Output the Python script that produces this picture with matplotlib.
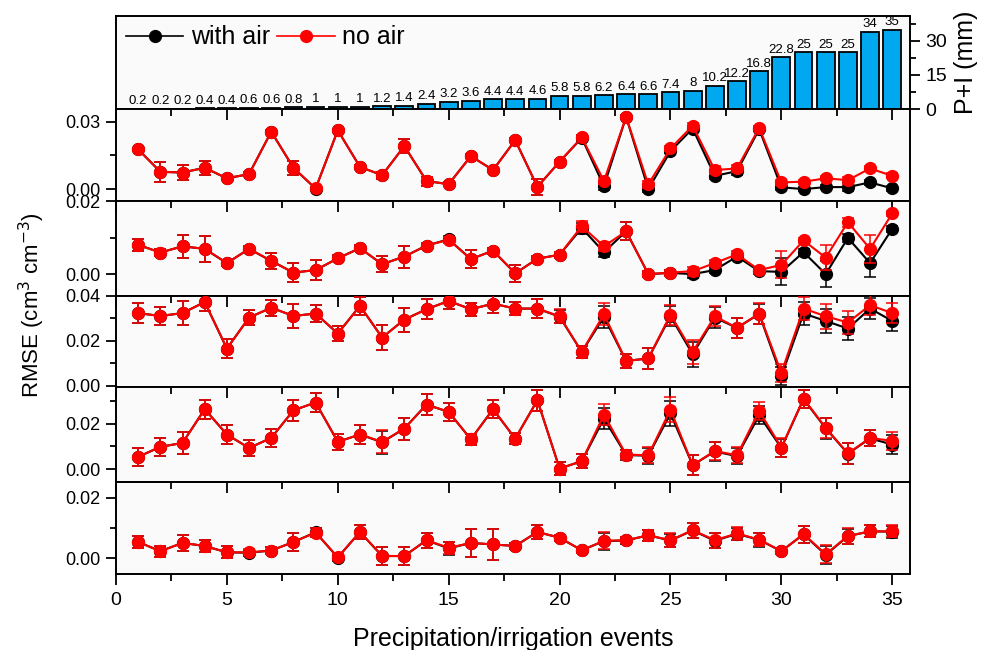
import numpy as np
import matplotlib
matplotlib.use('Agg')
import matplotlib.pyplot as plt
from matplotlib.ticker import MultipleLocator, FormatStrFormatter

# events and precipitation + irrigation amount (mm)
events = np.arange(1, 36)
p_i = [0.2, 0.2, 0.2, 0.4, 0.4, 0.6, 0.6, 0.8, 1, 1, 1, 1.2, 1.4, 2.4, 3.2, 3.6,
       4.4, 4.4, 4.6, 5.8, 5.8, 6.2, 6.4, 6.6, 7.4, 8, 10.2, 12.2, 16.8, 22.8,
       25, 25, 25, 34, 35]
p_i_labels = ['0.2', '0.2', '0.2', '0.4', '0.4', '0.6', '0.6', '0.8', '1', '1', '1',
              '1.2', '1.4', '2.4', '3.2', '3.6', '4.4', '4.4', '4.6', '5.8', '5.8',
              '6.2', '6.4', '6.6', '7.4', '8', '10.2', '12.2', '16.8', '22.8', '25',
              '25', '25', '34', '35']

# panel 1
p1_noair = [0.0177, 0.0077, 0.0074, 0.0095, 0.0048, 0.0067, 0.0256, 0.0095, 0.0003, 0.0262,
            0.0099, 0.0062, 0.0192, 0.0036, 0.0022, 0.0147, 0.0085, 0.0218, 0.0010, 0.0122,
            0.0230, 0.0036, 0.0322, 0.0021, 0.0181, 0.0282, 0.0085, 0.0092, 0.0273, 0.0030,
            0.0033, 0.0048, 0.0040, 0.0092, 0.0059]
p1_air = [0.0177, 0.0077, 0.0074, 0.0095, 0.0048, 0.0067, 0.0256, 0.0095, 0.0002, 0.0262,
          0.0099, 0.0062, 0.0192, 0.0036, 0.0022, 0.0147, 0.0085, 0.0218, 0.0010, 0.0122,
          0.0228, 0.0013, 0.0322, 0.0000, 0.0169, 0.0270, 0.0059, 0.0080, 0.0267, 0.0008,
          0.0000, 0.0009, 0.0009, 0.0030, 0.0003]
p1_err = [0.0008, 0.0046, 0.0035, 0.0032, 0.0008, 0.0008, 0.0008, 0.0030, 0.0008, 0.0008,
          0.0008, 0.0015, 0.0030, 0.0020, 0.0008, 0.0008, 0.0008, 0.0008, 0.0036, 0.0008,
          0.0012, 0.0015, 0.0008, 0.0015, 0.0010, 0.0012, 0.0016, 0.0015, 0.0008, 0.0010,
          0.0009, 0.0009, 0.0016, 0.0012, 0.0011]

# panel 2
p2_noair = [0.0080, 0.0059, 0.0076, 0.0069, 0.0030, 0.0069, 0.0036, 0.0004, 0.0011, 0.0043,
            0.0071, 0.0027, 0.0048, 0.0078, 0.0094, 0.0041, 0.0064, 0.0002, 0.0042, 0.0053,
            0.0131, 0.0076, 0.0117, 0.0000, 0.0004, 0.0008, 0.0030, 0.0054, 0.0011, 0.0025,
            0.0092, 0.0045, 0.0142, 0.0069, 0.0166]
p2_air = [0.0080, 0.0059, 0.0076, 0.0069, 0.0030, 0.0069, 0.0036, 0.0004, 0.0011, 0.0043,
          0.0071, 0.0027, 0.0048, 0.0078, 0.0095, 0.0041, 0.0064, 0.0002, 0.0042, 0.0053,
          0.0126, 0.0060, 0.0117, 0.0000, 0.0003, 0.0000, 0.0011, 0.0048, 0.0008, 0.0006,
          0.0060, 0.0000, 0.0099, 0.0030, 0.0124]
p2_err = [0.0016, 0.0009, 0.0031, 0.0035, 0.0008, 0.0008, 0.0023, 0.0027, 0.0027, 0.0008,
          0.0008, 0.0022, 0.0030, 0.0008, 0.0008, 0.0025, 0.0008, 0.0024, 0.0008, 0.0008,
          0.0015, 0.0012, 0.0025, 0.0008, 0.0008, 0.0012, 0.0008, 0.0008, 0.0008, 0.0037,
          0.0008, 0.0035, 0.0012, 0.0038, 0.0008]

# panel 3
p3_noair = [0.0324, 0.0311, 0.0324, 0.0373, 0.0166, 0.0304, 0.0348, 0.0311, 0.0322, 0.0233,
            0.0356, 0.0215, 0.0295, 0.0341, 0.0378, 0.0341, 0.0366, 0.0344, 0.0344, 0.0310,
            0.0151, 0.0319, 0.0111, 0.0122, 0.0317, 0.0151, 0.0310, 0.0258, 0.0322, 0.0058,
            0.0344, 0.0310, 0.0282, 0.0359, 0.0324]
p3_air = [0.0324, 0.0311, 0.0324, 0.0373, 0.0166, 0.0304, 0.0348, 0.0311, 0.0322, 0.0233,
          0.0356, 0.0215, 0.0295, 0.0341, 0.0378, 0.0341, 0.0366, 0.0344, 0.0344, 0.0308,
          0.0151, 0.0307, 0.0111, 0.0122, 0.0310, 0.0141, 0.0304, 0.0258, 0.0320, 0.0043,
          0.0322, 0.0289, 0.0255, 0.0344, 0.0289]
p3_err = [0.0043, 0.0038, 0.0052, 0.0040, 0.0041, 0.0035, 0.0035, 0.0055, 0.0038, 0.0033,
          0.0040, 0.0056, 0.0053, 0.0045, 0.0035, 0.0030, 0.0040, 0.0030, 0.0042, 0.0030,
          0.0025, 0.0050, 0.0033, 0.0047, 0.0045, 0.0055, 0.0045, 0.0045, 0.0045, 0.0040,
          0.0050, 0.0055, 0.0050, 0.0045, 0.0045]

# panel 4
p4_noair = [0.0054, 0.0098, 0.0115, 0.0263, 0.0152, 0.0093, 0.0137, 0.0258, 0.0292, 0.0120,
            0.0152, 0.0120, 0.0178, 0.0283, 0.0251, 0.0131, 0.0263, 0.0134, 0.0302, 0.0003,
            0.0035, 0.0239, 0.0064, 0.0061, 0.0261, 0.0018, 0.0080, 0.0061, 0.0255, 0.0095,
            0.0309, 0.0181, 0.0069, 0.0137, 0.0124]
p4_air = [0.0054, 0.0098, 0.0115, 0.0263, 0.0152, 0.0093, 0.0137, 0.0258, 0.0292, 0.0120,
          0.0152, 0.0118, 0.0178, 0.0283, 0.0251, 0.0131, 0.0263, 0.0134, 0.0302, 0.0003,
          0.0035, 0.0222, 0.0062, 0.0059, 0.0244, 0.0018, 0.0078, 0.0057, 0.0236, 0.0093,
          0.0307, 0.0179, 0.0068, 0.0135, 0.0108]
p4_err = [0.0039, 0.0038, 0.0047, 0.0042, 0.0040, 0.0035, 0.0038, 0.0047, 0.0040, 0.0035,
          0.0042, 0.0051, 0.0048, 0.0045, 0.0040, 0.0025, 0.0040, 0.0025, 0.0045, 0.0030,
          0.0030, 0.0045, 0.0020, 0.0035, 0.0055, 0.0045, 0.0040, 0.0035, 0.0040, 0.0040,
          0.0040, 0.0045, 0.0045, 0.0035, 0.0040]

# panel 5
p5_noair = [0.0054, 0.0024, 0.0051, 0.0041, 0.0020, 0.0020, 0.0026, 0.0054, 0.0085, 0.0004,
            0.0087, 0.0008, 0.0008, 0.0060, 0.0035, 0.0051, 0.0046, 0.0041, 0.0087, 0.0068,
            0.0027, 0.0058, 0.0060, 0.0076, 0.0060, 0.0093, 0.0060, 0.0082, 0.0062, 0.0024,
            0.0080, 0.0014, 0.0074, 0.0089, 0.0089]
p5_air = [0.0054, 0.0024, 0.0051, 0.0041, 0.0020, 0.0019, 0.0026, 0.0054, 0.0086, 0.0003,
          0.0087, 0.0008, 0.0008, 0.0060, 0.0033, 0.0051, 0.0046, 0.0041, 0.0087, 0.0068,
          0.0027, 0.0057, 0.0059, 0.0076, 0.0059, 0.0092, 0.0058, 0.0081, 0.0061, 0.0024,
          0.0079, 0.0012, 0.0073, 0.0089, 0.0088]
p5_err = [0.0020, 0.0018, 0.0027, 0.0020, 0.0020, 0.0010, 0.0012, 0.0030, 0.0015, 0.0010,
          0.0022, 0.0030, 0.0030, 0.0025, 0.0020, 0.0045, 0.0052, 0.0010, 0.0022, 0.0010,
          0.0010, 0.0028, 0.0010, 0.0018, 0.0022, 0.0025, 0.0025, 0.0020, 0.0022, 0.0010,
          0.0028, 0.0030, 0.0025, 0.0020, 0.0020]

panels = [(p1_air, p1_noair, p1_err, (-0.0053, 0.0357), 0.03),
          (p2_air, p2_noair, p2_err, (-0.006, 0.02), 0.02),
          (p3_air, p3_noair, p3_err, (-0.0005, 0.04), 0.02),
          (p4_air, p4_noair, p4_err, (-0.0056, 0.036), 0.02),
          (p5_air, p5_noair, p5_err, (-0.0051, 0.0251), 0.02)]

plt.rcParams['font.family'] = ['Liberation Sans', 'DejaVu Sans']

W, H = 989, 650
x0, x1 = 116, 910
edges = [16, 109, 201, 296, 387, 482, 574]
xlim = (0, 35.8)
face = '#fafafa'
msize = 8.5

fig = plt.figure(figsize=(W / 100, H / 100), dpi=100)


def add_axes(top, bottom):
    return fig.add_axes([x0 / W, 1 - bottom / H, (x1 - x0) / W, (bottom - top) / H])


# top bar panel
axb = add_axes(edges[0], edges[1])
axb.set_facecolor(face)
bars = axb.bar(events, p_i, width=0.8, color='#00a8f0', edgecolor='black', linewidth=1.3)
axb.bar_label(bars, labels=p_i_labels, padding=1, fontsize=9.5)
axb.set_xlim(xlim)
axb.set_ylim(0, 41)
axb.yaxis.tick_right()
axb.yaxis.set_label_position('right')
axb.yaxis.set_major_locator(MultipleLocator(15))
axb.yaxis.set_minor_locator(MultipleLocator(7.5))
axb.tick_params(axis='y', which='major', length=7, width=1.3, labelsize=14, pad=4)
axb.tick_params(axis='y', which='minor', length=4, width=1.3)
axb.tick_params(axis='x', bottom=False, labelbottom=False)
axb.set_ylabel('P+I (mm)', fontsize=18, labelpad=5)
for s in axb.spines.values():
    s.set_linewidth(1.4)

h1, = axb.plot([], [], 'o-', color='black', markersize=msize, lw=1.2)
h2, = axb.plot([], [], 'o-', color='red', markersize=msize, lw=1.2)
axb.legend([h1, h2], ['with air', 'no air'], loc='center left', bbox_to_anchor=(0.006, 0.77),
           ncol=2, frameon=False, fontsize=18, handlelength=2.3, handletextpad=0.3,
           columnspacing=0.3, borderpad=0.2, borderaxespad=0)

# RMSE panels
for i, (air, noair, err, ylim, major) in enumerate(panels):
    ax = add_axes(edges[i + 1], edges[i + 2])
    ax.set_facecolor(face)
    ax.errorbar(events, air, yerr=err, fmt='o-', color='black', markersize=msize, lw=1.5,
                elinewidth=1.1, capsize=4, capthick=1.1, zorder=2)
    ax.errorbar(events, noair, yerr=err, fmt='o-', color='red', markersize=msize, lw=1.5,
                elinewidth=1.1, capsize=4, capthick=1.1, zorder=3)
    ax.set_xlim(xlim)
    ax.set_ylim(ylim)
    ax.yaxis.set_major_locator(MultipleLocator(major))
    ax.yaxis.set_minor_locator(MultipleLocator(major / 2))
    ax.yaxis.set_major_formatter(FormatStrFormatter('%.2f'))
    ax.xaxis.set_major_locator(MultipleLocator(5))
    ax.xaxis.set_minor_locator(MultipleLocator(2.5))
    ax.tick_params(axis='y', which='major', length=7, width=1.3, labelsize=13, pad=4)
    ax.tick_params(axis='y', which='minor', length=4, width=1.3)
    for s in ax.spines.values():
        s.set_linewidth(1.4)
    last = (i == len(panels) - 1)
    if not last:
        ax.tick_params(axis='x', which='both', top=True, bottom=False, labelbottom=False,
                       direction='in', width=1.3)
        ax.tick_params(axis='x', which='major', length=8)
        ax.tick_params(axis='x', which='minor', length=5)
    else:
        # bottom ticks outward with labels, top ticks inward
        ax.tick_params(axis='x', which='both', direction='out', width=1.3,
                       labelsize=14, pad=5)
        ax.tick_params(axis='x', which='major', length=8)
        ax.tick_params(axis='x', which='minor', length=5)
        top = ax.secondary_xaxis('top')
        top.xaxis.set_major_locator(MultipleLocator(5))
        top.xaxis.set_minor_locator(MultipleLocator(2.5))
        top.tick_params(axis='x', which='both', direction='in', width=1.3, labeltop=False)
        top.tick_params(axis='x', which='major', length=8)
        top.tick_params(axis='x', which='minor', length=5)
        top.spines['top'].set_linewidth(1.4)

fig.text(0.032, 1 - 305 / H, 'RMSE (cm$^3$ cm$^{-3}$)', rotation=90, ha='center',
         va='center', fontsize=16)
fig.text((x0 + x1) / 2 / W, 1 - 646 / H, 'Precipitation/irrigation events', ha='center',
         va='baseline', fontsize=18)

fig.savefig('out.png', dpi=100, facecolor='white')
